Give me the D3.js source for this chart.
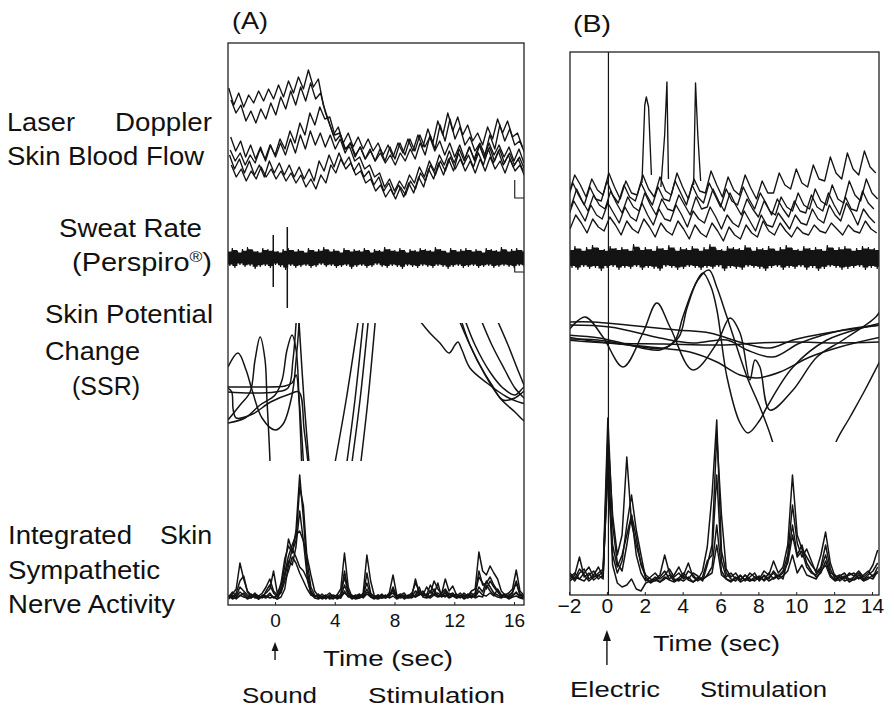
<!DOCTYPE html>
<html>
<head>
<meta charset="utf-8">
<script src="https://cdn.jsdelivr.net/npm/d3@7"></script>
<style>
  body { margin: 0; background: #fff; }
  svg { display: block; }
  text { font-family: "Liberation Sans", Arial, Helvetica, sans-serif; fill: #111; }
</style>
</head>
<body>
<svg id="fig" width="894" height="707"></svg>
<script>
// ---------------------------------------------------------------
// Recorded traces (arbitrary units, upward positive)
// ---------------------------------------------------------------

// (A) sound stimulation — laser Doppler skin blood flow, sampled every 1/3 s
const ldfAStep = 1 / 3;
const ldfAOnsets = [-3.1, -2.95, -3.0, -2.93, -3.05, -2.97];
const ldfA1 = [117,100,112,98,110,102,114,104,116,106, 120,108,124,112,128,116,135,118,126,100, 85,70,78,62,72,58,68,56,66,54, 62,50,60,48,62,52,66,54,70,58, 76,62,84,70,92,74,88,70,80,64, 72,60,78,66,86,72,84,68,72,58];
const ldfA2 = [105,92,100,84,94,82,96,86,102,90, 108,96,114,100,118,104,122,106,112,92, 78,64,70,56,62,50,58,46,54,44, 52,42,50,40,52,44,56,46,62,50, 70,56,80,64,86,66,78,60,68,54, 62,50,70,56,80,64,76,60,64,52];
const ldfA3 = [55,44,52,40,50,42,56,46,60,50, 66,56,74,62,82,70,92,80,98,86, 88,70,72,56,58,44,48,36,40,28, 32,18,26,14,24,16,30,22,38,28, 44,34,50,40,54,42,56,44,58,46, 60,48,62,50,60,48,58,44,56,42];
const ldfA4 = [40,28,36,24,34,26,38,28,36,26, 34,24,32,22,30,18,26,16,30,22, 40,32,46,36,42,30,34,22,26,14, 20,8,16,6,18,10,24,16,32,24, 40,30,44,34,48,36,46,34,44,32, 46,34,48,36,44,32,46,34,40,28];
const ldfA5 = [50,36,46,32,44,30,40,28,44,32, 42,30,40,28,38,26,36,24,44,34, 50,38,52,40,48,34,42,28,34,20, 28,14,22,10,20,8,22,12,28,18, 36,26,42,30,46,34,52,40,50,38, 52,40,56,42,54,40,50,38,46,34];
const ldfA6 = [68,54,64,48,60,46,58,44,60,48, 62,50,66,52,70,56,74,60,72,58, 70,56,66,52,62,48,58,46,56,44, 56,44,58,46,62,50,66,54,70,58, 68,54,64,50,62,48,60,46,58,44, 60,46,58,44,56,42,52,40,48,36];
const ldfACal = [[16.05, 25], [16.05, 7], [16.8, 7]];

// (A) sweat rate — noise envelope (upper / lower edge)
const sweatAStart = -3.2, sweatAStep = 0.34;
const sweatAHi = [8,10,7,9,11,8,7,10,9,8, 7,9,10,8,9,7,10,8,9,11, 8,9,7,10,8,9,8,10,7,9, 8,11,9,8,10,7,9,8,10,9, 8,11,9,7,10,8,9,10,8,9, 7,10,9,8,11,8,9,10,8,9];
const sweatALo = [-8,-10,-7,-9,-8,-11,-9,-8,-10,-7, -9,-12,-8,-10,-9,-8,-10,-9,-7,-9, -8,-10,-9,-8,-11,-9,-8,-10,-9,-7, -9,-10,-8,-9,-11,-8,-9,-10,-8,-9, -10,-8,-9,-11,-9,-8,-10,-9,-8,-10, -9,-8,-10,-9,-8,-9,-10,-8,-9,-10];
const sweatASpikes = [{t: -0.12, hi: 23, lo: -29}, {t: 0.82, hi: 31, lo: -50}];
const sweatACal = [[16.05, -5], [16.05, -14], [16.8, -14]];

// (A) skin potential change (SSR) — [time, value] pairs
const ssrA1 = [[-3.15,23],[-2.48,37],[-1.94,20],[-1.54,0],[-0.87,-28],[0,-40],[0.54,-34],[1.14,-5],[1.41,30],[1.61,67],[1.7,95]];
const ssrA2 = [[-3.15,3],[-1.0,3],[0.67,4],[1.14,7],[1.41,15],[1.61,-10],[1.81,-50],[1.94,-85]];
const ssrA3 = [[-3.15,-2],[-1.67,-3],[0,-2],[0.87,2],[1.2,30],[1.41,67],[1.51,90],[1.61,67],[1.94,-10],[2.34,-85]];
const ssrA4 = [[-3.15,-30],[-2.34,-15],[-1.67,-2],[-1.34,30],[-1.0,53],[-0.67,30],[-0.54,-10],[-0.4,-50],[-0.3,-85]];
const ssrA5 = [[-3.15,-33],[-2.01,-28],[-1.0,-15],[0,-5],[0.47,10],[0.8,40],[1.14,55],[1.41,40],[1.61,-10],[1.81,-85]];
const ssrA6 = [[-3.15,2],[-2.9,-2],[-2.8,-20],[-2.6,-28],[-1.5,-24],[-0.3,-12],[1.0,-4],[1.6,-2],[1.95,-40],[2.3,-85]];
const ssrA7 = [[3.95,-78],[4.76,-10],[5.6,72]];
const ssrA8 = [[4.76,-78],[5.35,-10],[5.93,72]];
const ssrA9 = [[5.1,-78],[5.69,-10],[6.26,72]];
const ssrA10 = [[5.7,-78],[6.22,-10],[6.73,72]];
const ssrA11 = [[9.65,70],[10.37,57],[11.04,47],[11.65,37],[12.05,45],[12.25,48],[12.52,40],[13.05,22],[14.19,7],[15.53,-7],[16.53,-13],[16.8,-14]];
const ssrA12 = [[12.32,70],[13.05,45],[13.72,25],[14.52,5],[15.26,-10],[16.06,-8],[16.6,-2],[16.8,0]];
const ssrA13 = [[12.72,70],[13.39,45],[14.39,18],[15.26,2],[16.06,-5],[16.6,2],[16.8,4]];
const ssrA14 = [[13.8,70],[14.52,45],[15.39,20],[16.06,2],[16.67,-8],[16.8,-10]];
const ssrA15 = [[14.87,70],[15.6,45],[16.26,20],[16.67,5],[16.8,0]];
const ssrA16 = [[12.46,70],[13.05,45],[14.06,15],[15.06,-8],[16.06,-22],[16.6,-30],[16.8,-32]];

// (A) integrated skin sympathetic nerve activity, sampled every 0.25 s
const snaAStart = -3.1, snaAStep = 0.25;
const snaA1 = [4,7,12,38,22,10,6,3,5,8, 14,22,10,6,18,42,55,48,70,126, 82,30,10,4,6,3,5,4,2,6, 12,48,14,4,6,3,8,46,20,5, 3,6,4,8,26,6,3,5,4,7, 18,10,6,14,8,20,12,7,22,10, 15,6,4,8,5,10,12,49,30,26, 35,28,22,10,6,8,12,31,10,6];
const snaA2 = [6,3,8,20,25,9,4,6,2,5, 8,12,30,8,14,35,62,50,60,114, 95,40,14,6,3,5,2,6,4,3, 5,30,10,3,5,7,4,28,8,4, 6,3,5,4,12,5,7,3,6,4, 22,8,5,6,16,9,5,8,12,6, 8,4,6,3,7,5,8,24,18,12, 20,14,9,5,7,4,9,18,6,4];
const snaA3 = [3,5,2,6,4,3,7,4,2,6, 5,3,4,2,10,28,45,56,66,70, 60,44,26,10,5,2,4,3,5,2, 4,8,5,2,4,6,3,7,4,2, 5,3,4,6,8,3,5,2,4,3, 6,14,4,3,5,7,18,4,6,3, 5,3,4,6,3,5,4,10,6,5, 8,5,12,6,4,3,6,8,4,3];
const snaA4 = [5,2,4,9,6,2,4,8,3,4, 3,6,4,2,4,12,36,52,44,34, 30,22,8,3,2,4,6,2,3,5, 3,16,6,4,2,3,5,12,4,3, 2,4,6,3,5,2,4,6,3,5, 4,6,10,4,3,6,4,5,8,4, 6,3,5,2,4,6,3,5,4,16, 10,6,4,3,5,2,4,5,3,2];
const snaA5 = [2,6,3,5,8,4,3,6,2,5, 4,8,3,6,8,20,30,44,38,28, 20,12,6,4,7,3,5,8,4,6, 3,10,4,6,3,5,4,9,5,3, 6,4,3,7,10,4,6,3,5,8, 4,10,5,7,4,12,5,6,4,8, 5,7,3,6,4,8,5,14,9,20, 14,8,6,4,6,3,5,9,4,3];
const snaA6 = [4,9,5,14,10,6,3,7,5,3, 10,16,8,4,12,24,40,36,54,90, 60,24,8,5,4,7,3,5,6,4, 7,24,8,5,3,4,6,18,6,5, 4,7,3,5,14,4,6,8,3,4, 10,6,8,4,10,6,8,5,10,4, 7,5,8,4,6,3,6,30,16,18, 24,16,10,6,4,6,8,20,7,5];

// (B) electric stimulation — laser Doppler skin blood flow, sampled every 0.3 s
const ldfBStep = 0.3;
const ldfBOnsets = [-2.0, -1.9, -2.05, -1.95, -2.1];
const ldfB1 = [52,70,60,48,66,55,50,72,58, 46,64,52,50,70,56,48,68,54, 50,72,58,46,66,54,52,74,60, 48,68,55,50,70,57,46,64,52, 52,72,60,56,76,62,58,80,66, 64,88,72,66,92,76,70,94,78, 72];
const ldfB2 = [38,56,44,34,50,40,36,54,42, 32,48,38,34,52,40,30,46,36, 34,50,40,30,48,36,38,56,44, 34,52,40,30,46,36,28,44,34, 30,48,38,34,52,40,36,56,44, 40,60,46,42,64,50,44,66,52, 46];
const ldfB3 = [28,44,34,24,40,30,26,42,32, 22,38,28,24,42,30,20,36,26, 24,40,30,18,34,26,22,38,28, 16,30,22,18,34,24,14,30,20, 18,32,24,16,30,22,20,36,26, 22,40,30,24,42,32,20,36,28, 22];
const ldfB4 = [16,30,22,12,26,18,14,28,20, 10,24,16,12,26,18,8,22,14, 10,24,16,6,20,12,8,22,14, 4,18,10,6,20,12,8,24,14, 10,22,14,8,18,12,10,20,14, 12,22,16,10,20,14,12,24,16, 12];
const ldfB5 = [44,62,50,40,58,46,44,64,50, 42,60,48,44,62,50,40,58,46, 44,64,52,40,60,48,42,62,50, 38,56,44,40,58,46,36,52,42, 30,46,36,28,44,34,32,50,38, 34,52,40,30,48,36,34,54,42, 36];
const ldfBSpike1 = [[1.85,62],[2.0,140],[2.08,148],[2.2,138],[2.35,70]];
const ldfBSpike2 = [[2.85,58],[3.05,110],[3.17,163],[3.25,66]];
const ldfBSpike3 = [[4.58,60],[4.68,162],[4.8,110],[4.95,64]];

// (B) sweat rate — noise envelope
const sweatBStart = -2.0, sweatBStep = 0.31;
const sweatBHi = [10,12,9,11,13,10,9,12,10,11, 9,14,10,11,9,12,10,13,9,11, 10,12,9,11,14,10,9,12,11,10, 13,9,11,10,12,9,11,13,10,9, 12,10,11,9,13,10,11,12,9,10, 12,11,10,13,10];
const sweatBLo = [-10,-12,-9,-11,-10,-13,-10,-9,-12,-10, -11,-9,-12,-10,-11,-13,-9,-10,-12,-11, -9,-10,-12,-10,-11,-9,-13,-10,-11,-12, -9,-10,-11,-13,-10,-9,-12,-10,-11,-9, -12,-10,-13,-11,-9,-10,-12,-11,-10,-9, -12,-10,-11,-10,-12];

// (B) skin potential change (SSR) — [time, value] pairs
const ssrB0 = [[-2.1,2],[0,-1],[3,-2],[6,-3],[8,-1],[10,0],[12,-1],[14.5,0]];
const ssrB1 = [[-2.1,7],[-0.4,4],[1.0,-2],[2.8,-8],[3.6,2],[4.01,25],[4.6,55],[5.07,69],[5.5,55],[5.81,32],[6.34,-35],[7.03,-81],[7.45,-91],[8.08,-78],[8.45,-65],[9.83,-25],[11.62,2],[14.5,19]];
const ssrB2 = [[-2.1,3],[-0.5,2],[1.5,-4],[3.0,-6],[3.8,5],[4.23,34],[4.8,62],[5.39,72],[5.8,55],[6.34,25],[7.4,-35],[8.08,-65],[8.72,-98],[8.9,-112]];
const ssrB3 = [[-2.1,10],[-1.16,25],[-0.21,5],[0.85,-25],[1.9,9],[2.64,39],[3.33,15],[4.54,-28],[5.81,-1],[6.5,24],[7.03,9],[7.55,-38],[7.82,-18],[8.08,-25],[8.61,-68],[9.83,-48],[11.09,-15],[12.47,2],[14.2,25],[14.5,34]];
const ssrB4 = [[-2.1,20],[-0.74,20],[1.06,17],[3.7,12],[5.44,9],[7.18,-1],[8.61,-6],[9.83,2],[11.62,9],[14.5,17]];
const ssrB5 = [[-2.1,17],[0.16,15],[2.8,4],[4.54,-1],[6.34,2],[7.4,-8],[8.77,-15],[10.2,-1],[12.47,12],[14.5,17]];
const ssrB6 = [[-2.1,5],[-0.37,0],[2.27,-5],[4.38,-10],[5.81,-20],[7.03,-33],[7.92,-36],[9.14,-30],[10.72,-15],[12.3,-5],[14.5,5]];
const ssrB7 = [[11.95,-112],[12.1,-100],[12.84,-75],[13.63,-48],[14.5,-16]];

// (B) integrated skin sympathetic nerve activity, sampled every 0.25 s
const snaBStart = -1.95, snaBStep = 0.25;
const snaB1 = [6,10,28,8,12,5,9,14,167,60, 22,14,40,70,48,20,8,3,6,10, 30,12,6,4,10,22,8,5,14,38, 90,165,34,12,6,4,9,5,12,8, 6,14,10,24,12,18,40,110,50,36, 28,20,14,30,53,22,8,10,6,12, 9,14,8,12,20,35];
const snaB2 = [10,4,12,16,6,10,18,8,150,70, 30,50,128,62,40,22,10,6,4,8, 14,6,10,18,8,6,12,9,4,20, 40,150,70,16,8,12,5,10,6,4, 8,5,12,6,9,14,30,80,42,28, 36,24,12,18,40,16,6,9,12,5, 8,12,6,10,14,22];
const snaB3 = [4,8,6,12,18,8,10,6,140,30, 12,24,60,90,55,30,6,2,5,3, 8,5,3,6,4,8,3,6,5,10, 18,60,14,6,4,8,3,6,4,8, 5,9,4,7,10,6,26,60,30,40, 22,14,8,12,24,10,5,8,4,6, 5,8,4,6,10,12];
const snaB4 = [8,12,6,4,10,14,6,10,120,20, 2,-2,0,6,-4,-6,2,4,8,3, 6,10,4,7,12,5,3,8,6,9, 12,40,10,6,3,7,5,10,4,6, 9,4,8,12,6,9,14,30,12,20, 10,8,6,14,20,8,4,6,9,3, 6,10,5,8,6,14];
const snaB5 = [12,6,16,10,4,8,12,16,110,40, 18,30,50,70,30,12,4,8,12,6, 10,16,8,12,6,14,10,4,8,24, 30,110,24,8,12,6,10,4,8,12, 4,10,6,14,8,12,22,50,28,34, 18,12,10,16,30,12,10,4,8,10, 12,6,10,14,8,18];

// stimulus onset marker in (B)
const stimB = 0.08;

// axis ticks
const ticksA = [0, 4, 8, 12, 16];
const ticksB = [-2, 0, 2, 4, 6, 8, 10, 12, 14];

// ---------------------------------------------------------------
// Layout
// ---------------------------------------------------------------
const ink = "#141414";
const svg = d3.select("#fig");
const frameA = { x0: 228, y0: 43, x1: 524, y1: 605 };
const frameB = { x0: 570, y0: 52, x1: 879, y1: 595 };

const xA = d3.scaleLinear().domain([-3.15, 16.67]).range([frameA.x0, frameA.x1]);
const xB = d3.scaleLinear().domain([-1.95, 14.37]).range([frameB.x0, frameB.x1]);

const yLdfA   = d3.scaleLinear().domain([0, 150]).range([205, 55]);
const ySweatA = d3.scaleLinear().domain([-50, 50]).range([308, 208]);
const ySsrA   = d3.scaleLinear().domain([-71, 67]).range([461, 323]);
const ySnaA   = d3.scaleLinear().domain([0, 130]).range([601, 471]);

const yLdfB   = d3.scaleLinear().domain([0, 200]).range([245, 45]);
const ySweatB = d3.scaleLinear().domain([-20, 20]).range([278, 238]);
const ySsrB   = d3.scaleLinear().domain([-100, 80]).range([442, 262]);
const ySnaB   = d3.scaleLinear().domain([0, 170]).range([585, 415]);

const defs = svg.append("defs");
function clip(id, x, y, w, h) {
  defs.append("clipPath").attr("id", id).append("rect")
    .attr("x", x).attr("y", y).attr("width", w).attr("height", h);
}
clip("clipA", frameA.x0, frameA.y0, frameA.x1 - frameA.x0, frameA.y1 - frameA.y0);
clip("clipB", frameB.x0, frameB.y0, frameB.x1 - frameB.x0, frameB.y1 - frameB.y0);
clip("clipSsrA", frameA.x0, ySsrA(67), frameA.x1 - frameA.x0, ySsrA(-71) - ySsrA(67));
clip("clipSsrB", frameB.x0, frameB.y0, frameB.x1 - frameB.x0, ySsrB(-100) - frameB.y0);

const sampled = (vals, start, step) => vals.map((v, i) => [start + step * i, v]);
const lineOf = (x, y, curve) => d3.line().x(d => x(d[0])).y(d => y(d[1])).curve(curve || d3.curveLinear);

function trace(g, pts, x, y, width, curve) {
  g.append("path")
    .attr("d", lineOf(x, y, curve)(pts))
    .attr("fill", "none")
    .attr("stroke", ink)
    .attr("stroke-width", width)
    .attr("stroke-linejoin", "round");
}

// noisy sweat band: stepped envelope fill plus a zigzag running between the two edges
function band(g, hi, lo, start, step, x, y) {
  const pts = hi.map((v, i) => ({ t: start + step * i, hi: v, lo: lo[i] }));
  g.append("path")
    .attr("d", d3.area().x(d => x(d.t)).y0(d => y(d.lo * 0.8)).y1(d => y(d.hi * 0.8))
      .curve(d3.curveStepAfter)(pts))
    .attr("fill", ink);
  const zig = [];
  pts.forEach(d => { zig.push([d.t, d.hi]); zig.push([d.t + step / 2, d.lo]); });
  g.append("path")
    .attr("d", lineOf(x, y)(zig))
    .attr("fill", "none").attr("stroke", ink).attr("stroke-width", 1.1);
}

// ---------------------------------------------------------------
// Panel A
// ---------------------------------------------------------------
const gA = svg.append("g").attr("clip-path", "url(#clipA)");
[ldfA1, ldfA2, ldfA3, ldfA4, ldfA5, ldfA6].forEach((vals, k) =>
  trace(gA, sampled(vals, ldfAOnsets[k], ldfAStep), xA, yLdfA, 1.35));
trace(gA, ldfACal, xA, yLdfA, 1.1);

band(gA, sweatAHi, sweatALo, sweatAStart, sweatAStep, xA, ySweatA);
sweatASpikes.forEach(s => trace(gA, [[s.t, s.hi], [s.t, s.lo]], xA, ySweatA, 1.5));
trace(gA, sweatACal, xA, ySweatA, 1.1);

const gSsrA = gA.append("g").attr("clip-path", "url(#clipSsrA)");
[ssrA1, ssrA2, ssrA3, ssrA4, ssrA5, ssrA6, ssrA7, ssrA8, ssrA9, ssrA10,
 ssrA11, ssrA12, ssrA13, ssrA14, ssrA15, ssrA16].forEach(c =>
  trace(gSsrA, c, xA, ySsrA, 1.5, d3.curveCatmullRom.alpha(0.5)));

[snaA1, snaA2, snaA3, snaA4, snaA5, snaA6].forEach(vals =>
  trace(gA, sampled(vals, snaAStart, snaAStep), xA, ySnaA, 1.5));

svg.append("rect")
  .attr("x", frameA.x0).attr("y", frameA.y0)
  .attr("width", frameA.x1 - frameA.x0).attr("height", frameA.y1 - frameA.y0)
  .attr("fill", "none").attr("stroke", "#222").attr("stroke-width", 1.3);

// ---------------------------------------------------------------
// Panel B
// ---------------------------------------------------------------
const gB = svg.append("g").attr("clip-path", "url(#clipB)");
[ldfB1, ldfB2, ldfB3, ldfB4, ldfB5].forEach((vals, k) =>
  trace(gB, sampled(vals, ldfBOnsets[k], ldfBStep), xB, yLdfB, 1.35));
[ldfBSpike1, ldfBSpike2, ldfBSpike3].forEach(s => trace(gB, s, xB, yLdfB, 1.35));

band(gB, sweatBHi, sweatBLo, sweatBStart, sweatBStep, xB, ySweatB);

const gSsrB = gB.append("g").attr("clip-path", "url(#clipSsrB)");
[ssrB0, ssrB1, ssrB2, ssrB3, ssrB4, ssrB5, ssrB6, ssrB7].forEach(c =>
  trace(gSsrB, c, xB, ySsrB, 1.5, d3.curveCatmullRom.alpha(0.5)));

[snaB1, snaB2, snaB3, snaB4, snaB5].forEach(vals =>
  trace(gB, sampled(vals, snaBStart, snaBStep), xB, ySnaB, 1.5));

gB.append("line")
  .attr("x1", xB(stimB)).attr("x2", xB(stimB))
  .attr("y1", frameB.y0).attr("y2", frameB.y1)
  .attr("stroke", ink).attr("stroke-width", 1.2);

svg.append("rect")
  .attr("x", frameB.x0).attr("y", frameB.y0)
  .attr("width", frameB.x1 - frameB.x0).attr("height", frameB.y1 - frameB.y0)
  .attr("fill", "none").attr("stroke", "#222").attr("stroke-width", 1.3);

// ---------------------------------------------------------------
// Axes
// ---------------------------------------------------------------
function timeAxis(scale, ticks, y, pad, size) {
  const g = svg.append("g").attr("transform", `translate(0,${y})`)
    .call(d3.axisBottom(scale).tickValues(ticks).tickSize(-3).tickPadding(pad));
  g.select(".domain").remove();
  g.selectAll(".tick line").attr("stroke", "#222");
  g.selectAll(".tick text")
    .attr("font-family", "'Liberation Sans', Arial, sans-serif")
    .attr("font-size", size).attr("fill", "#111");
}
timeAxis(xA, ticksA, frameA.y1, 9, 19);
timeAxis(xB, ticksB, frameB.y1, 3, 21);

// ---------------------------------------------------------------
// Text
// ---------------------------------------------------------------
function label(txt, x, y, size, len) {
  const t = svg.append("text").attr("x", x).attr("y", y).attr("font-size", size).text(txt);
  if (len) t.attr("textLength", len).attr("lengthAdjust", "spacingAndGlyphs");
  return t;
}

label("(A)", 232, 29, 24, 36);
label("(B)", 573, 32, 24, 38);

label("Laser", 7, 131, 25, 68);
label("Doppler", 115, 131, 25, 97);
label("Skin Blood Flow", 7, 165, 25, 197);
label("Sweat Rate", 59, 237, 25, 143);
const persp = svg.append("text").attr("x", 72).attr("y", 271).attr("font-size", 25)
  .attr("textLength", 140).attr("lengthAdjust", "spacingAndGlyphs");
persp.append("tspan").text("(Perspiro");
persp.append("tspan").attr("font-size", 15).attr("dy", -9).text("®");
persp.append("tspan").attr("dy", 9).text(")");
label("Skin Potential", 45, 323, 25, 168);
label("Change", 45, 360, 25, 95);
label("(SSR)", 72, 395, 25, 68);
label("Integrated", 8, 544, 25, 124);
label("Skin", 160, 544, 25, 52);
label("Sympathetic", 8, 579, 25, 152);
label("Nerve Activity", 8, 613, 25, 167);

label("Time (sec)", 323, 666, 22, 130);
label("Sound", 242, 703, 22, 75);
label("Stimulation", 368, 703, 22, 137);

label("Time (sec)", 653, 651, 22, 127);
label("Electric", 570, 697, 22, 90);
label("Stimulation", 700, 697, 22, 127);

// stimulus arrows
function arrow(x, yTop, headH, headW, yBottom) {
  svg.append("line").attr("x1", x).attr("x2", x).attr("y1", yTop + headH - 1).attr("y2", yBottom)
    .attr("stroke", ink).attr("stroke-width", 1.4);
  svg.append("path")
    .attr("d", `M${x},${yTop} L${x - headW / 2},${yTop + headH} L${x + headW / 2},${yTop + headH} Z`)
    .attr("fill", ink);
}
arrow(xA(0), 642, 9, 7, 660);
arrow(xB(0), 630, 11, 8, 665);
</script>
</body>
</html>
